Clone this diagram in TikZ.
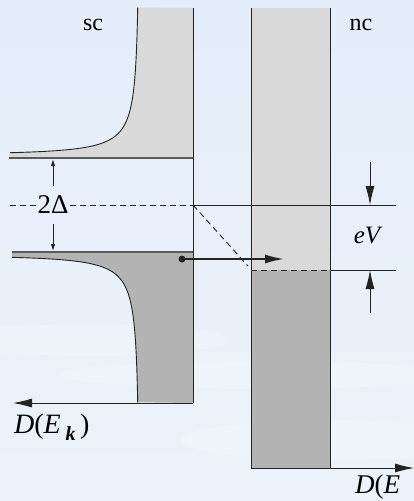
\documentclass[tikz,border=0pt]{standalone}
\usepackage{fontspec}
\setmainfont{Liberation Serif}
\usetikzlibrary{arrows.meta}

\definecolor{bgtop}{RGB}{228,237,250}
\definecolor{bgbot}{RGB}{236,242,249}
\definecolor{hell}{RGB}{217,217,217}
\definecolor{dunkel}{RGB}{179,179,179}
\definecolor{linie}{RGB}{35,35,35}

\tikzset{
    kante/.style={draw=linie, line width=0.9pt},
    luecke/.style={draw=linie!75, line width=1.8pt},
    strich/.style={kante, dash pattern=on 6pt off 4pt},
    bigtip/.style={-{Latex[length=19pt,width=9pt]}},
    smalltip/.style={-{Latex[length=7pt,width=4.5pt]}},
    lbl/.style={font=\fontsize{24}{28}\selectfont, inner sep=1pt},
    wolke/.style={white, opacity=0.22},
}

\begin{document}
\begin{tikzpicture}[x=1pt,y=-1pt]

    % 背景
    \useasboundingbox (0,0) rectangle (414,501);
    \clip (0,0) rectangle (414,501);
    \shade[top color=bgtop, bottom color=bgbot] (0,0) rectangle (414,501);
    \fill[wolke] (90,340) ellipse [x radius=140, y radius=16];
    \fill[wolke] (260,375) ellipse [x radius=200, y radius=14];
    \fill[wolke] (330,440) ellipse [x radius=150, y radius=20];

    % -------------------------------
    % 超导体 sc
    % -------------------------------
    % 上带（空态）
    \fill[hell] (193,158) -- (193,8)
        -- plot[domain=2.05:0.30, samples=80, variable=\t]
           ({193-53.5*cosh(\t)/sinh(\t)}, {205-50*cosh(\t)})
        -- (9,158) -- cycle;
    \draw[kante] plot[domain=2.05:0.30, samples=80, variable=\t]
           ({193-53.5*cosh(\t)/sinh(\t)}, {205-50*cosh(\t)});
    % 下带（占据态）
    \fill[dunkel] (193,252) -- (12,252)
        -- plot[domain=0.305:2.05, samples=80, variable=\t]
           ({193-53.5*cosh(\t)/sinh(\t)}, {205+50*cosh(\t)})
        -- (193,403) -- cycle;
    \draw[kante] plot[domain=0.305:2.05, samples=80, variable=\t]
           ({193-53.5*cosh(\t)/sinh(\t)}, {205+50*cosh(\t)});

    \draw[luecke] (9,158) -- (193,158);
    \draw[luecke] (12,252) -- (193,252);
    \draw[kante] (193,8) -- (193,403);
    \draw[kante, bigtip] (193,403) -- (13,403);

    % 能隙 2Δ
    \node[lbl, font=\fontsize{27}{30}\selectfont, inner ysep=10pt] (gap) at (53,205) {2Δ};
    \draw[strich] (10,205) -- (gap.west);
    \draw[strich] (gap.east) -- (193,205);
    \draw[kante, smalltip] (gap.north) -- (53,159);
    \draw[kante, smalltip] (gap.south) -- (53,251);

    % -------------------------------
    % 正常金属 nc
    % -------------------------------
    \fill[hell] (251,8) rectangle (330,270);
    \fill[dunkel] (251,270) rectangle (330,468);
    \draw[kante] (251,8) -- (251,468) -- (330,468);
    \draw[kante] (330,8) -- (330,468);
    \draw[kante, bigtip] (330,468) -- (414,468);

    % 费米能级与 eV
    \draw[kante] (193,205) -- (396,205);
    \draw[strich] (251,270) -- (330,270);
    \draw[kante] (330,270) -- (396,270);
    \draw[strich] (193,205) -- (248,266);

    \coordinate (obenpfeil) at (370,162);
    \coordinate (untenpfeil) at (370,313);
    \draw[kante, bigtip] (obenpfeil) -- (370,205);
    \draw[kante, bigtip] (untenpfeil) -- (370,270);

    % 隧穿电子
    \node[circle, fill=linie, inner sep=0pt, minimum size=7pt] (elek) at (182,259) {};
    \coordinate (ziel) at (284,259);
    \draw[draw=linie, line width=1.8pt, bigtip] (elek.center) -- (ziel);

    % 标注
    \node[lbl] (sc) at (93,25) {sc};
    \node[lbl] (nc) at (361,25) {nc};
    \node[lbl, font=\fontsize{25}{28}\selectfont\itshape] (ev) at (367,236) {eV};
    \node[lbl, anchor=base west, font=\fontsize{28}{32}\selectfont] (dlinks) at (13,433)
        {\textit{D}(\textit{E}\,\raisebox{-0.6ex}{\fontsize{20}{20}\selectfont\bfseries\itshape k}\,)};
    \node[lbl, anchor=base west, font=\fontsize{27}{30}\selectfont] (drechts) at (354,493)
        {\textit{D}(\textit{E}};

\end{tikzpicture}
\end{document}
